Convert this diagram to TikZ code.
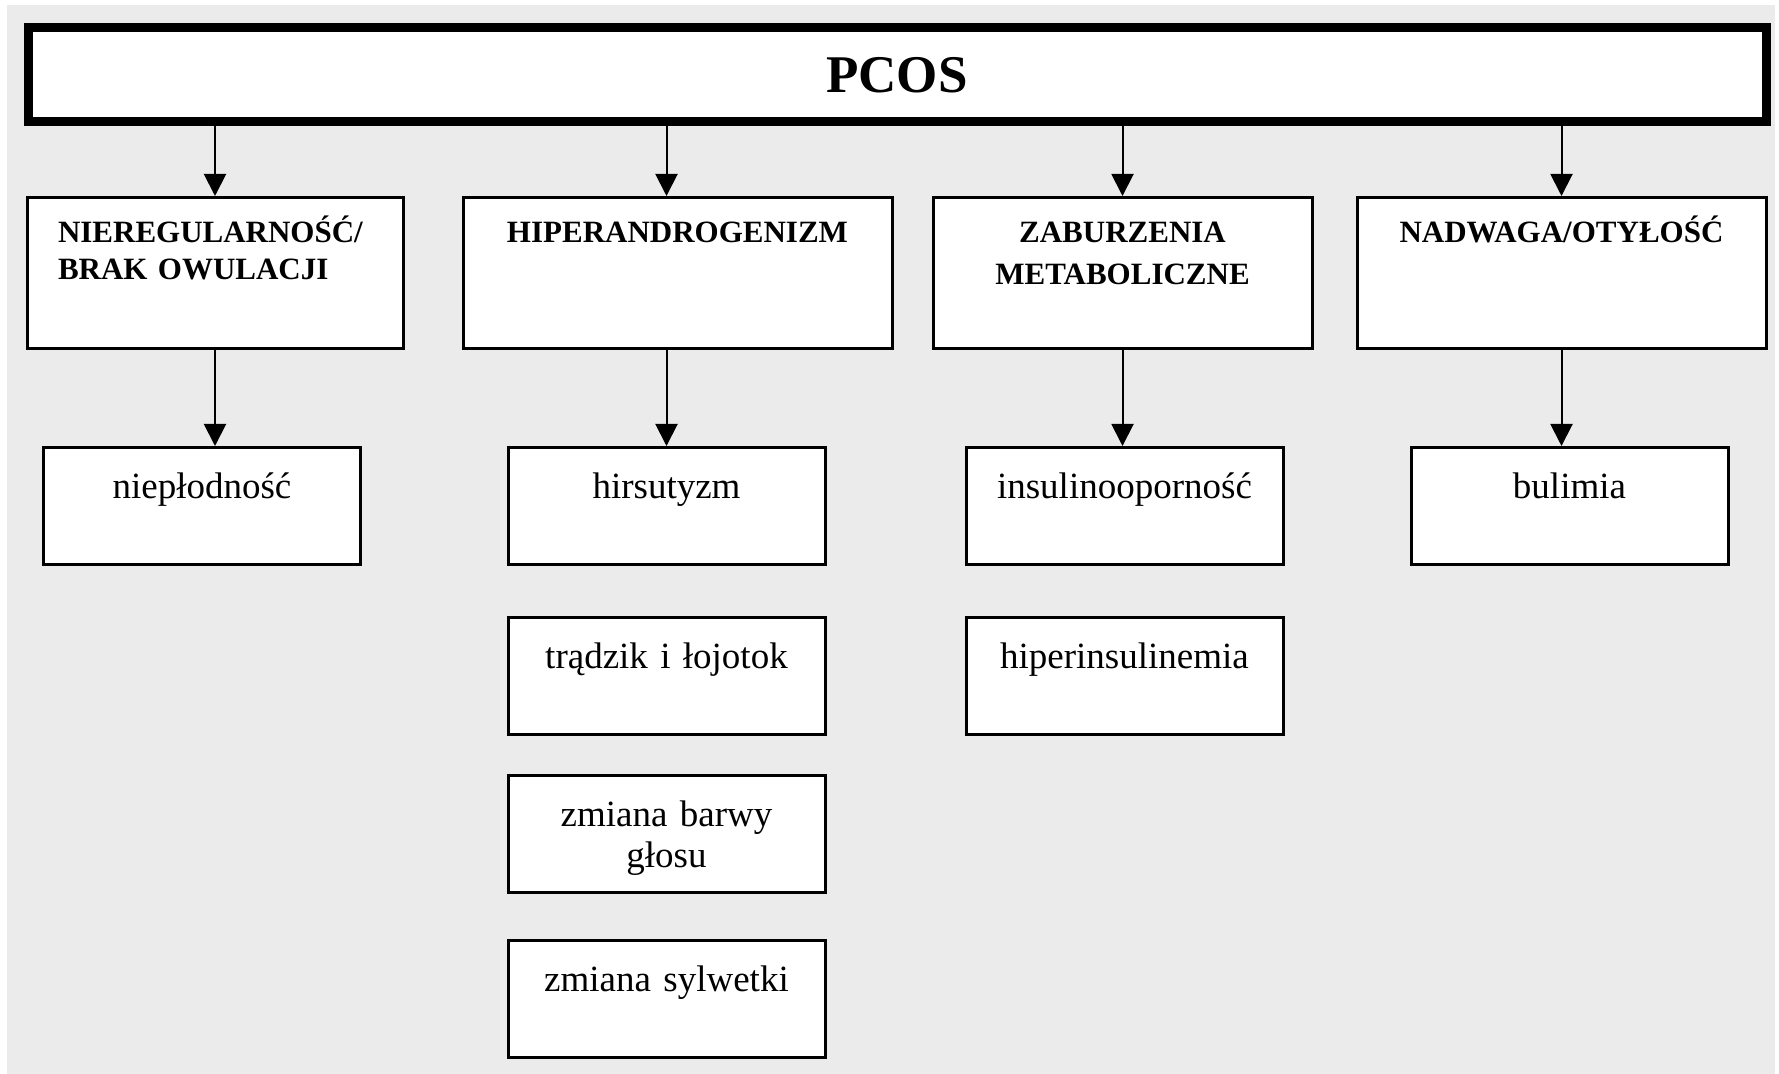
\documentclass[tikz,border=0pt]{standalone}
\usepackage{fontspec}
\setmainfont{Liberation Serif}
\usetikzlibrary{positioning,arrows.meta}
\definecolor{bggrey}{HTML}{EBEBEB}

\tikzset{
  topbox/.style={rectangle, draw, line width=4.5pt, fill=white, minimum width=869pt, minimum height=47pt, inner sep=0pt, font=\bfseries\fontsize{26.5}{30}\selectfont},
  groupbox/.style={rectangle, draw, line width=1.5pt, fill=white, minimum height=75.5pt, inner xsep=0pt, inner ysep=0pt, text height=22.5pt, text depth=53pt, text width=180pt, align=center, font=\bfseries\fontsize{15.5}{19.5}\selectfont},
  leafbox/.style={rectangle, draw, line width=1.5pt, fill=white, minimum width=158.5pt, minimum height=58.5pt, inner xsep=0pt, inner ysep=0pt, text height=25.5pt, text depth=33pt, text width=150pt, align=center, font=\fontsize{18.5}{20.5}\selectfont},
  arr/.style={line width=1pt, -{Triangle[width=11pt,length=11pt]}}
}

\begin{document}
\begin{tikzpicture}[x=0.5pt, y=-0.5pt, node distance=48pt]
    \useasboundingbox (0,0) rectangle (1779,1074);
    \fill[bggrey] (7,5) rectangle (1775,1074);

    \node[topbox] (pcos) at (897,75) {PCOS};

    \node[groupbox, minimum width=188pt, text width=157pt, align=left, font=\bfseries\fontsize{15.5}{18.5}\selectfont, anchor=north] (irreg) at (215,196) {NIEREGULARNOŚĆ/\\BRAK OWULACJI};
    \node[groupbox, minimum width=214.5pt, text width=205pt, anchor=north] (hyper) at (677.5,196) {HIPERANDROGENIZM};
    \node[groupbox, minimum width=189.5pt, font=\bfseries\fontsize{15.5}{21}\selectfont, anchor=north] (metab) at (1122.5,196) {ZABURZENIA\\METABOLICZNE};
    \node[groupbox, minimum width=204.5pt, text width=195pt, anchor=north] (weight) at (1561.5,196) {NADWAGA/OTYŁOŚĆ};

    \node[leafbox, below=of irreg, xshift=-6.5pt] (infert) {niepłodność};
    \node[leafbox, below=of hyper, xshift=-5.5pt] (hirs) {hirsutyzm};
    \node[leafbox, below=25pt of hirs] (acne) {trądzik i łojotok};
    \node[leafbox, below=19pt of acne] (voice) {zmiana barwy\\głosu};
    \node[leafbox, below=22.5pt of voice] (shape) {zmiana sylwetki};
    \node[leafbox, below=of metab, xshift=1pt] (insres) {insulinooporność};
    \node[leafbox, below=25pt of insres] (hypins) {hiperinsulinemia};
    \node[leafbox, below=of weight, xshift=4pt] (bulim) {bulimia};

    \draw[arr] (pcos.south -| irreg) -- (irreg);
    \draw[arr] (pcos.south -| hirs) -- (hyper.north -| hirs);
    \draw[arr] (pcos.south -| metab) -- (metab);
    \draw[arr] (pcos.south -| weight) -- (weight);
    \draw[arr] (irreg) -- (irreg |- infert.north);
    \draw[arr] (hyper.south -| hirs) -- (hirs);
    \draw[arr] (metab) -- (metab |- insres.north);
    \draw[arr] (weight) -- (weight |- bulim.north);
\end{tikzpicture}
\end{document}
